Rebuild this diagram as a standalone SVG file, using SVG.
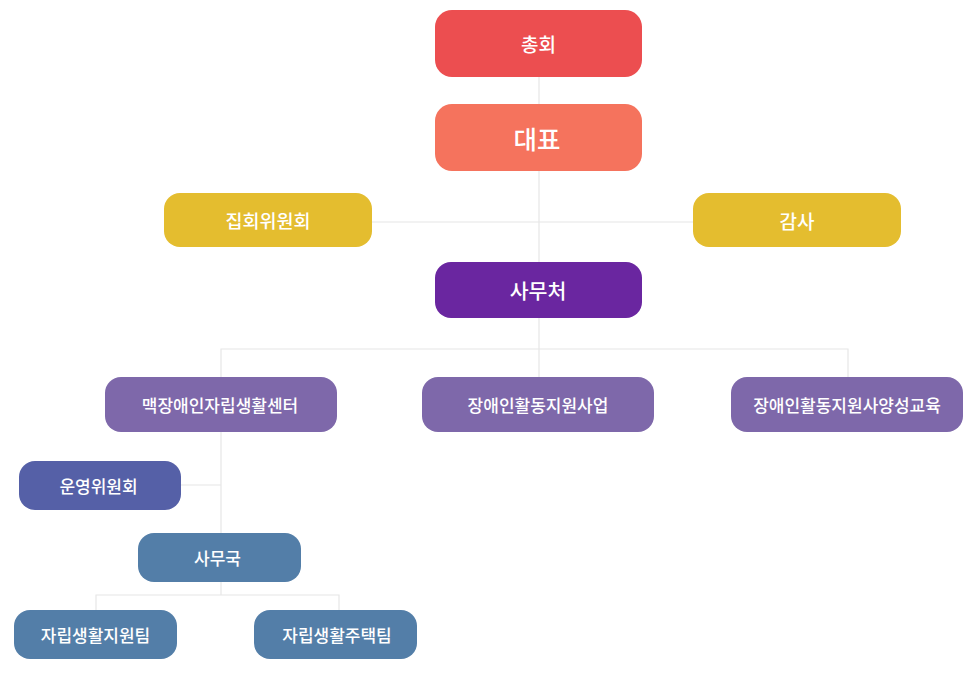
<svg xmlns="http://www.w3.org/2000/svg" width="975" height="673" viewBox="0 0 975 673">
<style>
.t{font-family:"Noto Sans CJK KR","Noto Sans",sans-serif;fill:#fff;text-anchor:middle;dominant-baseline:central;font-weight:500}
.s{font-size:17px}
.c{fill:none;stroke:#e6e6e6;stroke-width:1.2}
</style>
<rect width="975" height="673" fill="#fff"/>
<g id="connectors">
<path class="c" d="M539 77V377M372 222H693M221 377V349H848V377M221 432V533M181 485H221M221 582V595M96 610V595H339V610"/>
</g>
<g id="n1"><rect x="435" y="10" width="207" height="67" rx="17" fill="#ec4e50"/><text class="t" x="538.5" y="43.5" font-size="19">총회</text></g>
<g id="n2"><rect x="435" y="104" width="207" height="67" rx="17" fill="#f5735d"/><text class="t" x="537" y="137.5" font-size="25.5">대표</text></g>
<g id="n3"><rect x="164" y="193" width="208" height="54" rx="16" fill="#e4bd2f"/><text class="t" x="268" y="220" font-size="18.5">집회위원회</text></g>
<g id="n4"><rect x="693" y="193" width="208" height="54" rx="16" fill="#e4bd2f"/><text class="t" x="797" y="220" font-size="19">감사</text></g>
<g id="n5"><rect x="435" y="262" width="207" height="56" rx="16" fill="#6a26a0"/><text class="t" x="538" y="290" font-size="20.5">사무처</text></g>
<g id="n6"><rect x="105" y="377" width="232" height="55" rx="16" fill="#7e68aa"/><text class="t s" x="220" y="404.5">맥장애인자립생활센터</text></g>
<g id="n7"><rect x="422" y="377" width="232" height="55" rx="16" fill="#7e68aa"/><text class="t s" x="538" y="404.5">장애인활동지원사업</text></g>
<g id="n8"><rect x="731" y="377" width="232" height="55" rx="16" fill="#7e68aa"/><text class="t s" x="847" y="404.5">장애인활동지원사양성교육</text></g>
<g id="n9"><rect x="19" y="461" width="162" height="49" rx="16" fill="#5560a7"/><text class="t s" x="98.5" y="485.5">운영위원회</text></g>
<g id="n10"><rect x="138" y="533" width="163" height="49" rx="16" fill="#537ea8"/><text class="t s" x="217.5" y="557.5">사무국</text></g>
<g id="n11"><rect x="14" y="610" width="163" height="49" rx="16" fill="#537ea8"/><text class="t s" x="95.5" y="634.5">자립생활지원팀</text></g>
<g id="n12"><rect x="254" y="610" width="163" height="49" rx="16" fill="#537ea8"/><text class="t s" x="337" y="634.5">자립생활주택팀</text></g>
</svg>
